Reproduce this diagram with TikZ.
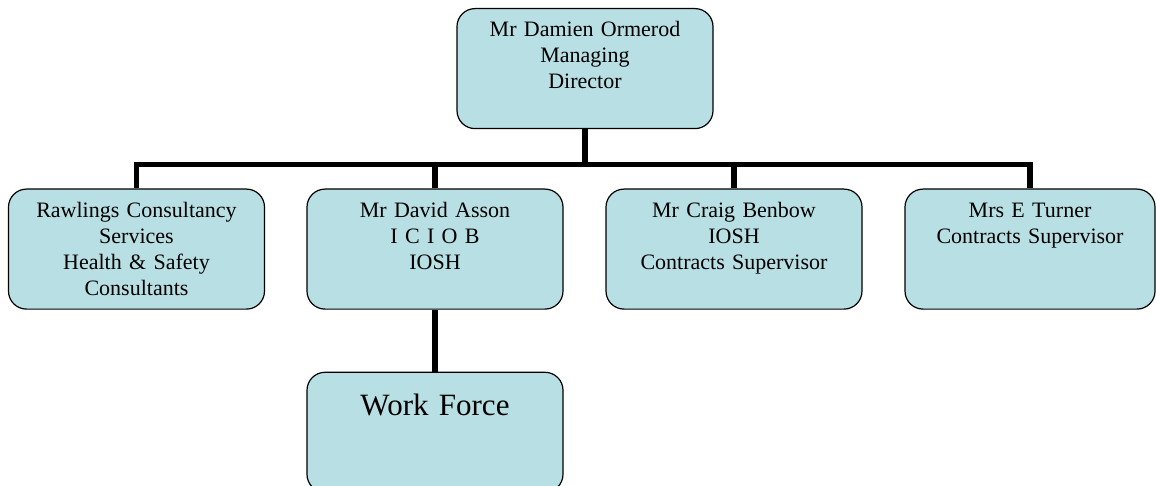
\documentclass[tikz,border=0pt]{standalone}
\usepackage{fontspec}
\setmainfont{Liberation Serif}
\usetikzlibrary{positioning}
\definecolor{boxblue}{RGB}{184,223,227}

\begin{document}
\begin{tikzpicture}[
    x=1pt, y=-1pt,
    box/.style={draw, line width=1.2pt, rounded corners=18pt,
                fill=boxblue, minimum width=256pt, minimum height=120pt,
                text width=250pt, inner xsep=3pt, inner ysep=11pt,
                text height=16pt, text depth=80pt, align=center,
                font=\fontsize{22}{26}\selectfont},
    link/.style={line width=5.5pt}
]
  \useasboundingbox (0,0) rectangle (1156,486);
  \node[box, anchor=north] (md)     at (585,8)       {Mr Damien Ormerod \\ Managing \\ Director};
  \coordinate (bar) at (585,164.5);
  \node[box, anchor=north] (rcs)    at (136.5,188.5) {Rawlings Consultancy \\ Services \\ Health \& Safety \\ Consultants};
  \node[box, anchor=north] (asson)  at (435,188.5)   {Mr David Asson \\ I C I O B \\ IOSH};
  \node[box, anchor=north] (benbow) at (734,188.5)   {Mr Craig Benbow \\ IOSH \\ Contracts Supervisor};
  \node[box, anchor=north, minimum width=250pt, text width=244pt]
       (turner) at (1030,188.5) {Mrs E Turner \\ Contracts Supervisor};
  \node[box, below=62pt of asson, text height=32pt, text depth=66pt,
        font=\fontsize{31}{36}\selectfont] (wf) {Work Force};
  \draw[link] (md.south) -- (bar);
  \draw[link] (rcs.north) -- (rcs.north |- bar) -- (turner.north |- bar) -- (turner.north);
  \draw[link] (asson.north) -- (asson.north |- bar);
  \draw[link] (benbow.north) -- (benbow.north |- bar);
  \draw[link] (asson.south) -- (wf.north);
\end{tikzpicture}
\end{document}
